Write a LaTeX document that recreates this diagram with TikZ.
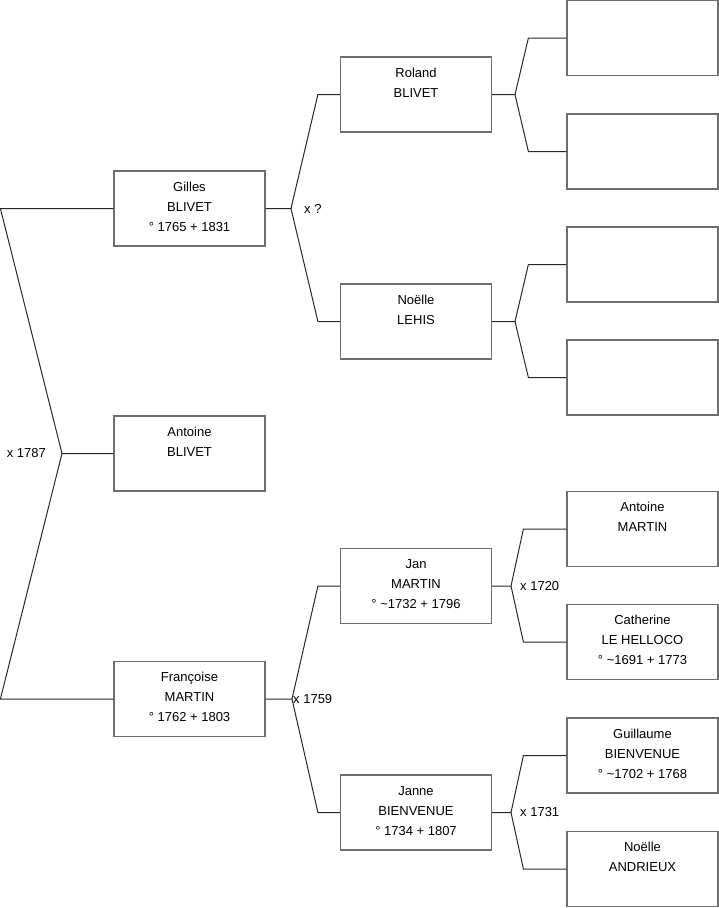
\documentclass[tikz,border=0pt]{standalone}
\usepackage{fontspec}
\setmainfont{Liberation Sans}
\definecolor{boxgray}{RGB}{110,110,110}
\definecolor{linegray}{RGB}{40,40,40}
\tikzset{
  person/.style={rectangle, draw=boxgray, line width=1.2pt, minimum width=151pt, minimum height=75pt, inner sep=0pt},
  txt/.style={align=center, inner sep=0pt, font=\fontsize{13}{20}\selectfont, text=black},
  lbl/.style={inner sep=0pt, font=\fontsize{13}{16}\selectfont, text=black},
  conn/.style={draw=linegray, line width=1pt}
}
\begin{document}
\begin{tikzpicture}[x=1pt,y=-1pt]
\useasboundingbox (0,0) rectangle (719,908);
% column 1
\node[person] (gilles) at (189.5,208.5) {};
\node[person] (antoine) at (189.5,453.5) {};
\node[person] (francoise) at (189.5,699) {};
% column 2
\node[person] (roland) at (416,94.5) {};
\node[person] (noelle) at (416,321.5) {};
\node[person] (jan) at (416,586) {};
\node[person] (janne) at (416,812.5) {};
% column 3
\node[person] (r1) at (642.5,38) {};
\node[person] (r2) at (642.5,151.5) {};
\node[person] (r3) at (642.5,264.5) {};
\node[person] (r4) at (642.5,377.5) {};
\node[person] (r5) at (642.5,529) {};
\node[person] (r6) at (642.5,642) {};
\node[person] (r7) at (642.5,755.5) {};
\node[person] (r8) at (642.5,869) {};
% texts (base anchor = baseline of last line)
\node[txt, anchor=base] (gillesT) at ([yshift=-60.6pt]gilles.north) {Gilles\\BLIVET\\° 1765 + 1831};
\node[txt, anchor=base] (antoineT) at ([yshift=-40.6pt]antoine.north) {Antoine\\BLIVET};
\node[txt, anchor=base] (francoiseT) at ([yshift=-60.6pt]francoise.north) {Françoise\\MARTIN\\° 1762 + 1803};
\node[txt, anchor=base] (rolandT) at ([yshift=-40.6pt]roland.north) {Roland\\BLIVET};
\node[txt, anchor=base] (noelleT) at ([yshift=-40.6pt]noelle.north) {Noëlle\\LEHIS};
\node[txt, anchor=base] (janT) at ([yshift=-60.6pt]jan.north) {Jan\\MARTIN\\° \textasciitilde1732 + 1796};
\node[txt, anchor=base] (janneT) at ([yshift=-60.6pt]janne.north) {Janne\\BIENVENUE\\° 1734 + 1807};
\node[txt, anchor=base] (r5T) at ([yshift=-40.6pt]r5.north) {Antoine\\MARTIN};
\node[txt, anchor=base] (r6T) at ([yshift=-60.6pt]r6.north) {Catherine\\LE HELLOCO\\° \textasciitilde1691 + 1773};
\node[txt, anchor=base] (r7T) at ([yshift=-60.6pt]r7.north) {Guillaume\\BIENVENUE\\° \textasciitilde1702 + 1768};
\node[txt, anchor=base] (r8T) at ([yshift=-40.6pt]r8.north) {Noëlle\\ANDRIEUX};
% junction coordinates
\coordinate (jA) at (62,453.5);
\coordinate (jG) at (291,208.5);
\coordinate (jF) at (292,699);
\coordinate (jR) at (515,94.5);
\coordinate (jN) at (515,321.5);
\coordinate (jJ) at (511,586);
\coordinate (jJn) at (511,812.5);
% connectors
\draw[conn] (antoine.west) -- (jA) -- ([xshift=-113pt]gilles.west) -- (gilles.west);
\draw[conn] (jA) -- ([xshift=-113pt]francoise.west) -- (francoise.west);
\draw[conn] (gilles.east) -- (jG) -- ([xshift=-22pt]roland.west) -- (roland.west);
\draw[conn] (jG) -- ([xshift=-22pt]noelle.west) -- (noelle.west);
\draw[conn] (francoise.east) -- (jF) -- ([xshift=-22pt]jan.west) -- (jan.west);
\draw[conn] (jF) -- ([xshift=-22pt]janne.west) -- (janne.west);
\draw[conn] (roland.east) -- (jR) -- ([xshift=-38pt]r1.west) -- (r1.west);
\draw[conn] (jR) -- ([xshift=-38pt]r2.west) -- (r2.west);
\draw[conn] (noelle.east) -- (jN) -- ([xshift=-38pt]r3.west) -- (r3.west);
\draw[conn] (jN) -- ([xshift=-38pt]r4.west) -- (r4.west);
\draw[conn] (jan.east) -- (jJ) -- ([xshift=-43pt]r5.west) -- (r5.west);
\draw[conn] (jJ) -- ([xshift=-43pt]r6.west) -- (r6.west);
\draw[conn] (janne.east) -- (jJn) -- ([xshift=-43pt]r7.west) -- (r7.west);
\draw[conn] (jJn) -- ([xshift=-43pt]r8.west) -- (r8.west);
% marriage labels
\node[lbl, anchor=east] (mA) at ([xshift=-16pt]jA) {x 1787};
\node[lbl, anchor=west] (mG) at ([xshift=13pt]jG) {x ?};
\node[lbl, anchor=west] (mF) at ([xshift=1pt]jF) {x 1759};
\node[lbl, anchor=west] (mJ) at ([xshift=9pt]jJ) {x 1720};
\node[lbl, anchor=west] (mJn) at ([xshift=9pt]jJn) {x 1731};
\end{tikzpicture}
\end{document}
